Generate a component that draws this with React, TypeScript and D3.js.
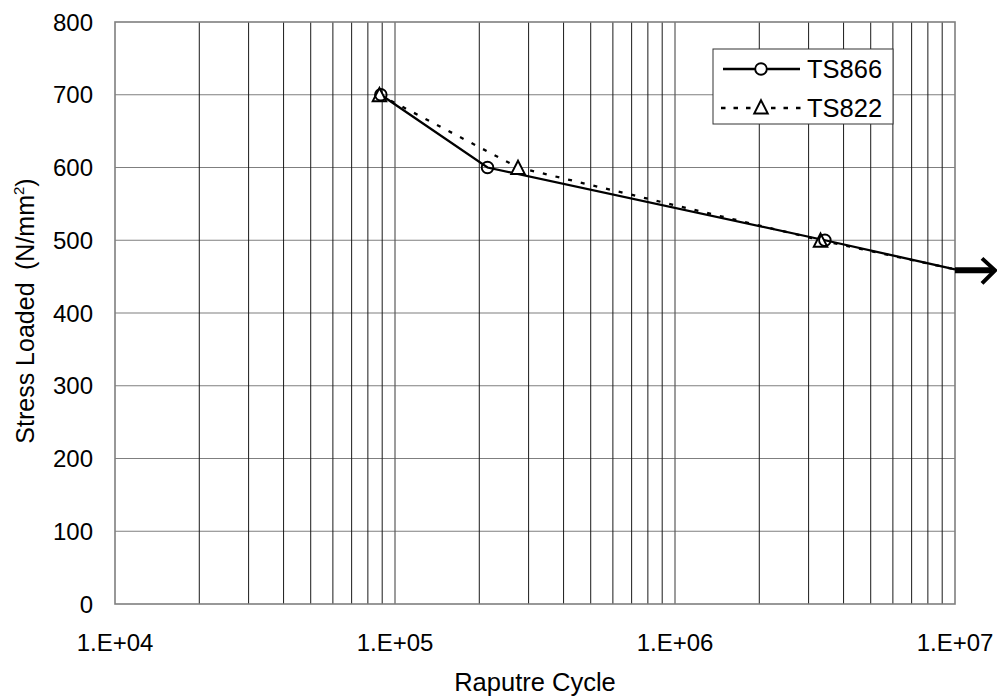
import React from "react";
import * as d3 from "d3";

const ts866Cycles = [8.9e4, 2.14e5, 3.43e6, 1e7];
const ts866Stress = [700, 600, 500, 460];
const ts822Cycles = [8.8e4, 2.75e5, 3.31e6, 1e7];
const ts822Stress = [700, 600, 500, 460];
const markerCount = 3; // last point is the run-out end (arrow), no marker

const yTicks = [0, 100, 200, 300, 400, 500, 600, 700, 800];
const xMajor = [1e4, 1e5, 1e6, 1e7];
const xTickLabels = ["1.E+04", "1.E+05", "1.E+06", "1.E+07"];
const seriesNames = ["TS866", "TS822"];

const W = 997;
const H = 697;
const M = { left: 115, right: 955, top: 22, bottom: 604 };
const FONT = "'Liberation Sans', Arial, sans-serif";

export default function App() {
  const x = d3.scaleLog().domain([1e4, 1e7]).range([M.left, M.right]);
  const y = d3.scaleLinear().domain([0, 800]).range([M.bottom, M.top]);

  const minor: number[] = [];
  for (let d = 1e4; d < 1e7; d *= 10) {
    for (let k = 2; k <= 9; k++) minor.push(d * k);
  }
  const majorInner = xMajor.slice(1, -1);

  const line = d3
    .line<[number, number]>()
    .x((d) => x(d[0]))
    .y((d) => y(d[1]));

  const s866: [number, number][] = ts866Cycles.map((c, i) => [c, ts866Stress[i]]);
  const s822: [number, number][] = ts822Cycles.map((c, i) => [c, ts822Stress[i]]);

  const tri = (cx: number, cy: number, s = 6.8) =>
    `M${cx},${cy - s}L${cx + s},${cy + s * 0.95}L${cx - s},${cy + s * 0.95}Z`;

  const endX = x(ts866Cycles[ts866Cycles.length - 1]);
  const endY = y(ts866Stress[ts866Stress.length - 1]);

  const legX = 713;
  const legY = 49;
  const legW = 180;
  const legH = 75;
  const row1 = 69;
  const row2 = 108;

  return (
    <svg
      width={W}
      height={H}
      style={{ position: "absolute", left: 0, top: 0, background: "#fff" }}
      fontFamily={FONT}
    >
      <rect x={0} y={0} width={W} height={H} fill="#fff" />
      {/* horizontal gridlines */}
      {yTicks.slice(1, -1).map((t) => (
        <line key={"h" + t} x1={M.left} x2={M.right} y1={y(t)} y2={y(t)} stroke="#7f7f7f" strokeWidth={1.2} />
      ))}
      {/* vertical minor gridlines */}
      {minor.map((v) => (
        <line key={"m" + v} x1={x(v)} x2={x(v)} y1={M.top} y2={M.bottom} stroke="#1a1a1a" strokeWidth={1} />
      ))}
      {majorInner.map((v) => (
        <line key={"M" + v} x1={x(v)} x2={x(v)} y1={M.top} y2={M.bottom} stroke="#5a5a5a" strokeWidth={1.2} />
      ))}
      {/* plot border */}
      <rect x={M.left} y={M.top} width={M.right - M.left} height={M.bottom - M.top} fill="none" stroke="#7f7f7f" strokeWidth={1.6} />

      {/* y tick labels */}
      {yTicks.map((t) => (
        <text key={"yl" + t} x={93} y={y(t)} dy="0.36em" textAnchor="end" fontSize={24} fill="#000">
          {t}
        </text>
      ))}
      {/* x tick labels */}
      {xMajor.map((v, i) => (
        <text key={"xl" + v} x={x(v)} y={651} textAnchor="middle" fontSize={24} fill="#000">
          {xTickLabels[i]}
        </text>
      ))}
      {/* axis titles */}
      <text x={(M.left + M.right) / 2} y={691} textAnchor="middle" fontSize={25.5} fill="#000">
        Raputre Cycle
      </text>
      <text
        transform={`translate(34,311) rotate(-90)`}
        textAnchor="middle"
        fontSize={25}
        fill="#000"
      >
        Stress Loaded{"\u2002"}(N/mm
        <tspan fontSize={15} dy={-10}>2</tspan>
        <tspan dy={10}>)</tspan>
      </text>

      {/* series lines */}
      <path d={line(s822) || ""} fill="none" stroke="#000" strokeWidth={2.3} strokeDasharray="4 9" />
      <path d={line(s866) || ""} fill="none" stroke="#000" strokeWidth={2.3} />

      {/* markers */}
      {s822.slice(0, markerCount).map((d, i) => (
        <path key={"t" + i} d={tri(x(d[0]), y(d[1]))} fill="#fff" stroke="#000" strokeWidth={1.9} />
      ))}
      {s866.slice(0, markerCount).map((d, i) => (
        <circle key={"c" + i} cx={x(d[0])} cy={y(d[1])} r={5.8} fill="none" stroke="#000" strokeWidth={1.9} />
      ))}

      {/* run-out arrow */}
      <line x1={endX} y1={endY + 1} x2={endX + 37} y2={endY + 1} stroke="#000" strokeWidth={6} />
      <polyline
        points={`${endX + 27},${endY - 11} ${endX + 40},${endY + 1} ${endX + 27},${endY + 14}`}
        fill="none"
        stroke="#000"
        strokeWidth={4}
      />

      {/* legend */}
      <rect x={legX} y={legY} width={legW} height={legH} fill="#fff" stroke="#333" strokeWidth={1} />
      <line x1={723} x2={800} y1={row1} y2={row1} stroke="#000" strokeWidth={2.3} />
      <circle cx={761} cy={row1} r={5.8} fill="#fff" stroke="#000" strokeWidth={1.9} />
      <text x={807} y={row1} dy="0.36em" fontSize={25.5} fill="#000">
        {seriesNames[0]}
      </text>
      <line x1={721} x2={802} y1={row2} y2={row2} stroke="#000" strokeWidth={2.3} strokeDasharray="4.5 8" />
      <path d={tri(761, row2 - 1)} fill="#fff" stroke="#000" strokeWidth={1.9} />
      <text x={807} y={row2} dy="0.36em" fontSize={25.5} fill="#000">
        {seriesNames[1]}
      </text>
    </svg>
  );
}
